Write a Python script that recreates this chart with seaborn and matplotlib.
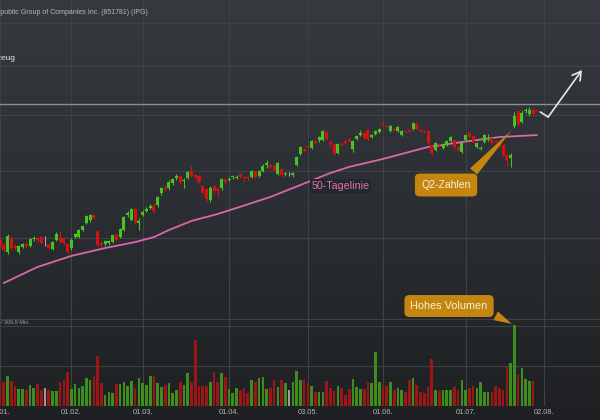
import numpy as np
import pandas as pd
import seaborn as sns
import matplotlib.pyplot as plt
from matplotlib.colors import LinearSegmentedColormap
from matplotlib.ticker import NullLocator

# trading days 2021 (US holidays removed)
holidays = pd.to_datetime(['2021-01-18', '2021-02-15', '2021-04-02', '2021-05-31', '2021-07-05'])
days = pd.bdate_range('2021-01-04', '2021-08-31')
days = days[~days.isin(holidays)]

# daily candles (USD)
opens = [24.85, 24.51, 24.05, 24.99, 24.44, 24.05, 24.38, 24.58, 24.44, 24.92,
         24.99, 25.05, 24.65, 24.58, 24.24, 24.85, 24.99, 24.99, 24.58, 24.31,
         25.05, 25.05, 25.54, 26.03, 26.25, 26.61, 25.47, 24.65, 24.58, 24.65,
         24.71, 25.19, 25.05, 25.54, 26.61, 26.25, 27.05, 26.03, 26.61, 26.91,
         27.13, 27.28, 27.35, 28.27, 28.66, 28.66, 29.05, 29.46, 29.62, 29.21,
         29.46, 29.94, 29.70, 29.62, 28.81, 28.58, 27.73, 28.81, 28.58, 28.66,
         29.29, 29.29, 29.54, 29.46, 29.78, 29.54, 29.54, 29.54, 29.94, 29.62,
         30.02, 30.52, 30.52, 30.44, 29.78, 30.19, 29.78, 29.82, 29.70, 30.52,
         31.45, 31.89, 32.15, 31.97, 32.59, 32.68, 32.68, 33.41, 32.50, 32.33,
         31.54, 32.33, 32.59, 32.77, 31.89, 32.77, 33.13, 33.31, 33.59, 32.95,
         33.22, 33.41, 34.15, 33.96, 33.50, 33.68, 33.50, 33.13, 33.50, 33.59,
         33.68, 34.15, 33.59, 33.50, 33.50, 32.24, 31.80, 32.33, 31.97, 32.24,
         32.59, 32.68, 32.06, 31.63, 32.68, 33.31, 33.04, 32.06, 31.89, 32.50,
         32.77, 32.86, 32.59, 32.50, 32.24, 31.37, 31.11, 33.96, 35.39, 34.34,
         35.39, 35.10, 35.48, 35.48]
closes = [24.51, 24.18, 25.12, 24.31, 24.31, 24.44, 24.58, 24.44, 24.92, 24.99,
          24.85, 24.65, 24.65, 24.31, 24.71, 25.26, 24.71, 24.65, 24.05, 24.85,
          25.26, 25.54, 25.82, 26.54, 26.61, 26.39, 24.51, 24.51, 24.78, 24.78,
          25.19, 24.85, 25.61, 26.47, 26.76, 27.05, 26.11, 26.18, 26.83, 27.05,
          27.28, 26.91, 27.96, 28.66, 28.58, 29.13, 29.38, 29.62, 29.13, 29.29,
          29.94, 29.62, 29.54, 29.13, 28.27, 27.81, 28.66, 28.42, 28.42, 29.38,
          29.13, 29.38, 29.62, 29.54, 29.54, 29.46, 29.46, 30.02, 29.54, 30.02,
          30.44, 30.69, 30.36, 30.11, 30.69, 29.70, 29.86, 29.82, 29.86, 31.20,
          32.06, 31.71, 32.06, 32.59, 32.41, 32.95, 33.50, 32.77, 32.33, 31.45,
          32.33, 32.24, 32.41, 32.59, 32.59, 33.04, 33.31, 32.86, 32.77, 33.13,
          33.50, 33.68, 34.05, 33.87, 33.96, 33.59, 33.87, 33.50, 33.41, 33.50,
          34.24, 33.68, 33.50, 33.41, 32.41, 31.54, 32.41, 32.24, 32.33, 32.59,
          32.95, 32.06, 31.80, 32.41, 33.13, 32.95, 32.50, 32.41, 31.97, 33.13,
          32.86, 32.41, 32.50, 32.06, 31.37, 30.94, 31.37, 34.90, 34.15, 35.19,
          35.48, 35.48, 35.10, 35.39]
highs = [24.99, 24.65, 25.26, 25.12, 24.58, 24.51, 24.65, 24.71, 24.99, 25.12,
         25.05, 25.12, 25.12, 24.65, 24.78, 25.40, 25.47, 25.05, 24.65, 24.99,
         25.33, 25.61, 25.89, 26.61, 26.69, 26.69, 25.54, 24.78, 24.85, 24.85,
         25.26, 25.33, 25.68, 26.54, 26.91, 27.13, 27.13, 26.39, 26.98, 27.20,
         27.43, 27.50, 28.04, 28.74, 28.89, 29.29, 29.46, 29.78, 29.70, 29.46,
         30.02, 30.44, 29.78, 29.70, 28.89, 28.66, 28.81, 28.89, 28.74, 29.46,
         29.46, 29.54, 29.70, 29.70, 29.86, 29.62, 29.62, 30.11, 30.02, 30.11,
         30.61, 30.94, 30.61, 30.61, 30.77, 30.27, 29.94, 29.94, 29.94, 31.28,
         32.15, 31.97, 32.33, 32.68, 32.68, 33.04, 33.59, 33.50, 32.68, 32.41,
         32.41, 32.41, 32.68, 32.86, 32.68, 33.13, 33.59, 33.41, 33.68, 33.22,
         33.59, 33.77, 34.34, 34.05, 34.05, 33.77, 33.96, 33.59, 33.59, 33.68,
         34.34, 34.24, 33.68, 33.59, 33.59, 32.33, 32.50, 32.41, 32.41, 32.68,
         33.04, 32.77, 32.15, 32.50, 33.22, 33.41, 33.13, 32.50, 32.15, 33.22,
         33.22, 32.95, 32.68, 32.59, 32.33, 31.45, 31.54, 35.29, 35.48, 35.39,
         35.68, 35.78, 35.58, 35.58]
lows = [24.31, 24.05, 23.91, 24.18, 24.18, 23.91, 24.31, 24.31, 24.38, 24.78,
        24.71, 24.58, 24.44, 24.18, 24.18, 24.78, 24.65, 24.51, 23.91, 24.18,
        24.99, 24.99, 25.47, 25.96, 26.11, 26.32, 24.38, 24.38, 24.44, 24.51,
        24.65, 24.78, 24.99, 25.47, 26.47, 26.18, 25.96, 25.54, 26.54, 26.83,
        27.05, 26.76, 27.20, 28.11, 28.42, 28.50, 28.89, 29.29, 28.97, 28.66,
        29.38, 29.54, 29.38, 29.05, 28.11, 27.65, 27.58, 28.27, 27.96, 28.50,
        28.97, 29.21, 29.38, 29.38, 29.46, 29.13, 29.29, 29.46, 29.46, 29.54,
        29.94, 30.27, 30.27, 30.02, 29.70, 29.54, 29.62, 29.62, 29.54, 30.44,
        31.37, 31.63, 31.89, 31.89, 32.33, 32.50, 32.59, 32.68, 32.06, 31.37,
        31.45, 32.15, 32.33, 32.50, 31.63, 32.68, 33.04, 32.77, 32.68, 32.86,
        33.13, 33.31, 33.87, 33.77, 33.41, 33.50, 33.41, 33.04, 33.31, 33.41,
        33.59, 33.59, 33.41, 33.31, 32.33, 31.37, 31.71, 32.15, 31.89, 32.15,
        32.50, 31.97, 31.71, 31.54, 32.59, 32.86, 32.41, 31.97, 31.80, 32.41,
        32.59, 32.33, 32.41, 31.97, 31.28, 30.36, 30.36, 33.77, 33.96, 34.24,
        35.19, 34.90, 35.00, 35.29]

# daily volume (Mio. shares)
volumes = [3.3, 3.0, 3.8, 3.1, 2.5, 2.1, 2.1, 2.0, 2.6, 2.3,
           2.8, 2.0, 2.3, 2.0, 1.9, 1.9, 3.0, 3.3, 4.3, 2.1,
           2.8, 2.3, 2.5, 3.5, 3.3, 3.8, 6.3, 2.9, 1.4, 1.8,
           1.6, 2.8, 2.8, 3.0, 2.5, 3.1, 2.3, 3.5, 2.9, 2.6,
           3.8, 3.8, 2.9, 2.4, 2.6, 2.9, 1.6, 2.0, 3.0, 2.6,
           4.1, 3.0, 8.3, 2.5, 2.5, 2.5, 3.0, 4.3, 3.0, 4.1,
           3.6, 2.1, 1.6, 2.3, 2.0, 2.3, 1.6, 3.3, 3.0, 3.5,
           3.6, 2.1, 2.3, 3.3, 2.4, 3.3, 2.9, 2.0, 3.0, 4.4,
           3.3, 3.4, 2.9, 2.5, 1.8, 1.8, 1.8, 3.1, 2.3, 1.9,
           2.5, 2.3, 1.4, 2.1, 3.4, 2.4, 2.1, 2.1, 3.0, 2.9,
           6.8, 3.0, 2.5, 2.5, 3.0, 2.0, 2.3, 2.0, 1.8, 3.3,
           3.5, 2.6, 1.8, 1.6, 2.4, 5.9, 2.0, 1.9, 2.0, 2.0,
           2.0, 2.4, 2.0, 3.3, 2.0, 2.3, 2.5, 2.3, 3.0, 1.8,
           1.8, 1.8, 2.5, 2.3, 2.0, 4.9, 5.4, 10.1, 3.9, 4.8,
           3.4, 3.1, 3.1]

# 50-day moving average, sampled along the line (trading-day number, USD)
ma_day = [1, 10, 19, 28, 36, 41, 45, 51, 58, 63, 72, 80, 88, 93, 102, 109, 114, 123, 133, 143]
ma_vals = [22.09, 23.08, 23.79, 24.31, 24.71, 25.05, 25.54, 26.18, 26.69, 27.13,
           27.96, 28.89, 29.86, 30.36, 31.03, 31.63, 32.06, 32.50, 32.95, 33.13]

resistance = 36.07
title = 'The Interpublic Group of Companies Inc. (851781) (IPG)'

df = pd.DataFrame({'open': opens, 'high': highs, 'low': lows, 'close': closes})
df['x'] = np.arange(len(df))
df['dir'] = np.select([df.close > df.open, df.close < df.open], ['up', 'down'], 'flat')

vol = pd.DataFrame({'x': np.arange(len(volumes)), 'vol': volumes,
                    'dir': df['dir'].values[:len(volumes)]})

# first trading day of each month for the ticks
pos = pd.Series(np.arange(len(days)), index=days)
first = pos.groupby(days.to_period('M')).first()
tick_pos = list(first.values)
tick_lab = [days[p].strftime('%d.%m.') for p in tick_pos]

sns.set_style('dark')
plt.rcParams['font.family'] = ['Liberation Sans', 'DejaVu Sans']

candle_col = {'up': '#47c41f', 'down': '#d51111', 'flat': '#a8a8a8'}
vol_pal = {'up': '#3e8c1b', 'down': '#9c1616', 'flat': '#9b9b9b'}
grid_col = '#3e4246'
amber = '#c4860f'

fig = plt.figure(figsize=(6, 4.2), dpi=100)

# dark gradient background
bg = fig.add_axes([0, 0, 1, 1])
cmap = LinearSegmentedColormap.from_list('bg', ['#1e2023', '#2b2e32', '#363a3e'])
bg.imshow(np.linspace(0, 1, 256).reshape(-1, 1)[::-1], aspect='auto', cmap=cmap,
          extent=[0, 1, 0, 1])
bg.axis('off')

ax_p = fig.add_axes([0, 100 / 420, 1, 320 / 420], facecolor='none')
ax_v = fig.add_axes([0, 14 / 420, 1, 86 / 420], facecolor='none')
xlim = (1.06, 159.8)

# price panel
ax_p.set_yscale('log')
sns.lineplot(x=ma_day, y=ma_vals, ax=ax_p, color='#d968a8', lw=1.3, zorder=2)
cols = df['dir'].map(candle_col)
ax_p.vlines(df.x, df.low, df.high, colors=cols, lw=0.8, zorder=3)
body_lo = np.minimum(df.open, df.close)
body_h = np.maximum(np.abs(df.close - df.open), 0.03)
ax_p.bar(df.x, body_h, bottom=body_lo, width=0.8, color=cols, lw=0, zorder=3)
ax_p.axhline(resistance, color='#8d9093', lw=1.0, zorder=1)

ax_p.set_xlim(*xlim)
ax_p.set_ylim(19.96, 47.96)
ax_p.yaxis.set_minor_locator(NullLocator())
ax_p.set_yticks([20, 25, 30, 35, 40, 45])
ax_p.set_xticks(tick_pos)
ax_p.tick_params(length=0, labelbottom=False, labelleft=False)
ax_p.grid(True, color=grid_col, lw=0.8)
ax_p.set_axisbelow(True)
for s in ax_p.spines.values():
    s.set_visible(False)

ax_p.text(90.7, 28.81, '50-Tagelinie', color='#e070b0', fontsize=7.7,
          ha='center', va='center',
          bbox=dict(boxstyle='square,pad=0.15', fc='#25282b', ec='none'))

ax_p.annotate('Q2-Zahlen', xy=(136.8, 33.77), xytext=(118.8, 28.89),
              ha='center', va='center', fontsize=7.5, color='#f6efe0', zorder=6,
              bbox=dict(boxstyle='round,pad=0.62,rounding_size=0.45', fc=amber, ec='none'),
              arrowprops=dict(arrowstyle='wedge,tail_width=0.9,shrink_factor=0.5',
                              fc=amber, ec='none', relpos=(0.88, 0.9)))

# white arrow at the right
ax_p.plot([143.9, 146.0], [35.29, 34.81], color='#e8e8e8', lw=1.2, zorder=5)
ax_p.annotate('', xy=(155.0, 39.59), xytext=(146.0, 34.81),
              arrowprops=dict(arrowstyle='->,head_length=0.6,head_width=0.35',
                              color='#e8e8e8', lw=1.2, shrinkA=0, shrinkB=0))

# volume panel
sns.barplot(data=vol, x='x', y='vol', hue='dir', palette=vol_pal, native_scale=True,
            width=0.7, dodge=False, legend=False, saturation=1, errorbar=None,
            linewidth=0, edgecolor='none', ax=ax_v, zorder=3)
ax_v.set_xlim(*xlim)
ax_v.set_ylim(0, 10.75)
ax_v.set_yticks([5, 10])
ax_v.set_xticks(tick_pos)
ax_v.set_xticklabels(tick_lab)
ax_v.set_xlabel('')
ax_v.set_ylabel('')
ax_v.tick_params(length=0, labelleft=False, labelsize=5.3, labelcolor='#b4b4b4', pad=2)
ax_v.grid(True, color=grid_col, lw=0.8)
ax_v.set_axisbelow(True)
for s in ax_v.spines.values():
    s.set_visible(False)

ax_v.annotate('Hohes Volumen', xy=(137, 10.1), xytext=(119.6, 12.5),
              ha='center', va='center', fontsize=7.8, color='#f6efe0',
              annotation_clip=False, zorder=6,
              bbox=dict(boxstyle='round,pad=0.55,rounding_size=0.45', fc=amber, ec='none'),
              arrowprops=dict(arrowstyle='wedge,tail_width=0.9,shrink_factor=0.5',
                              fc=amber, ec='none', relpos=(0.93, 0.2)))

# cropped header texts
fig.text(148 / 600, 1 - 12 / 420, title, ha='right', va='center', fontsize=5.0, color='#b8b8b8')
fig.text(16 / 600, 1 - 58 / 420, 'Zeichenwerkzeug', ha='right', va='center',
         fontsize=6.0, color='#e4e4e4')
fig.text(1 / 600, 1 - 322 / 420, '/ 306,9 Mio.', ha='left', va='center',
         fontsize=4.0, color='#9a9a9a')

fig.savefig('out.png', dpi=100)
